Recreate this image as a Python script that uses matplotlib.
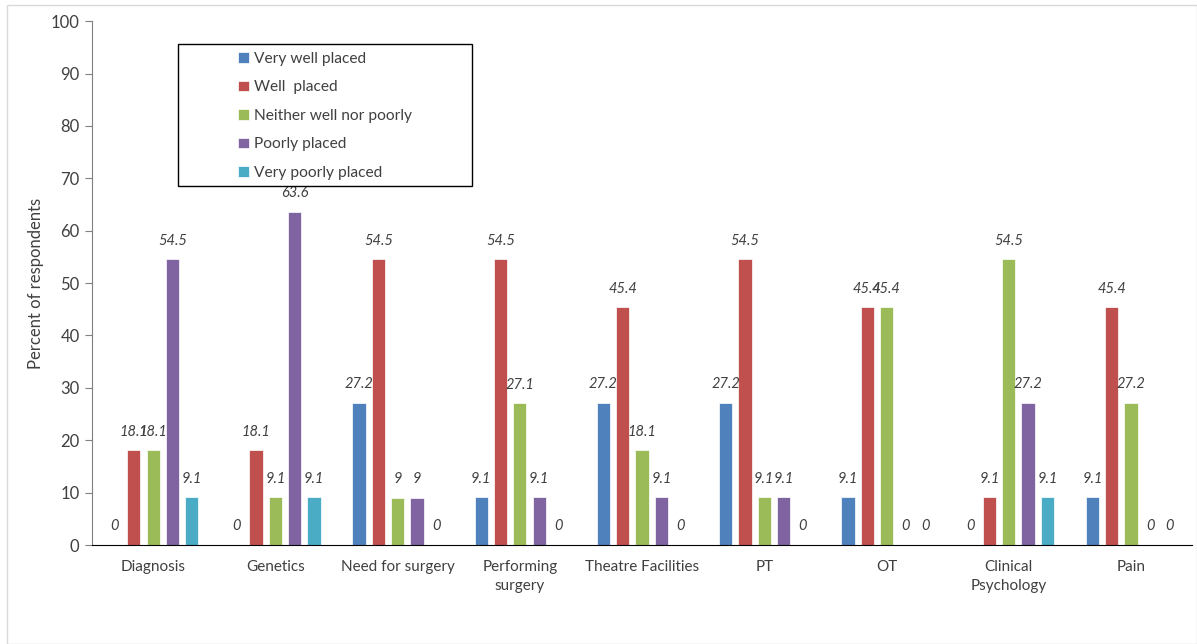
import numpy as np
import matplotlib.pyplot as plt
from matplotlib.patches import Rectangle

plt.rcParams['font.family'] = ['Lato', 'DejaVu Sans']

categories = ['Diagnosis', 'Genetics', 'Need for surgery', 'Performing\nsurgery',
              'Theatre Facilities', 'PT', 'OT', 'Clinical\nPsychology', 'Pain']
series_names = ['Very well placed', 'Well  placed', 'Neither well nor poorly',
                'Poorly placed', 'Very poorly placed']

very_well = [0, 0, 27.2, 9.1, 27.2, 27.2, 9.1, 0, 9.1]
well = [18.1, 18.1, 54.5, 54.5, 45.4, 54.5, 45.4, 9.1, 45.4]
neither = [18.1, 9.1, 9, 27.1, 18.1, 9.1, 45.4, 54.5, 27.2]
poorly = [54.5, 63.6, 9, 9.1, 9.1, 9.1, 0, 27.2, 0]
very_poorly = [9.1, 9.1, 0, 0, 0, 0, 0, 9.1, 0]

colors = ['#4F81BD', '#C0504D', '#9BBB59', '#8064A2', '#4BACC6']


def fmt(v):
    return f'{v:g}'


def plot_chart():
    fig = plt.figure(figsize=(11.97, 6.44), dpi=100)
    ax = fig.add_axes([0.0769, 0.1537, 0.919, 0.8135])

    # light frame round the whole picture
    fig.patches.append(Rectangle((0.006, 0.0), 0.994, 0.992, transform=fig.transFigure,
                                 fill=False, edgecolor='#D9D9D9', linewidth=1.0))

    x = np.arange(len(categories))
    step = 0.158
    width = 0.108
    all_series = [very_well, well, neither, poorly, very_poorly]
    for i, (name, vals, c) in enumerate(zip(series_names, all_series, colors)):
        pos = x + (i - 2) * step
        ax.bar(pos, vals, width=width, color=c, label=name,
               edgecolor='white', linewidth=0.5)
        for p, v in zip(pos, vals):
            ax.text(p, v + 2.2, fmt(v), ha='center', va='bottom', fontsize=10.5,
                    style='italic', color='#404040')

    ax.set_xlim(-0.5, len(categories) - 0.5)
    ax.set_ylim(0, 100)
    ax.set_yticks(np.arange(0, 101, 10))
    ax.set_xticks(x)
    ax.set_xticklabels(categories, fontsize=11, color='#404040', linespacing=1.45)
    ax.tick_params(axis='x', length=0, pad=11)
    ax.tick_params(axis='y', direction='out', length=5, color='#808080',
                   labelsize=12, labelcolor='#404040', pad=4)
    ax.set_ylabel('Percent of respondents', fontsize=12, color='#404040', labelpad=5)

    ax.spines['top'].set_visible(False)
    ax.spines['right'].set_visible(False)
    ax.spines['left'].set_color('#808080')
    ax.spines['bottom'].set_color('black')

    # legend box drawn separately so it can be wider than its entries
    box = Rectangle((178 / 1197, 1 - 186 / 644), 294 / 1197, 142 / 644,
                    transform=fig.transFigure, facecolor='white',
                    edgecolor='black', linewidth=1.0, zorder=5, clip_on=False)
    ax.add_patch(box)
    leg = ax.legend(loc='upper left', bbox_to_anchor=(238 / 1197, 1 - 52 / 644),
                    bbox_transform=fig.transFigure, fontsize=11.2, frameon=False,
                    handlelength=0.7, handleheight=0.7, labelspacing=0.93,
                    borderpad=0, handletextpad=0.35, borderaxespad=0)
    leg.set_zorder(6)
    for t in leg.get_texts():
        t.set_color('#404040')

    fig.savefig('out.png', dpi=100)


plot_chart()
